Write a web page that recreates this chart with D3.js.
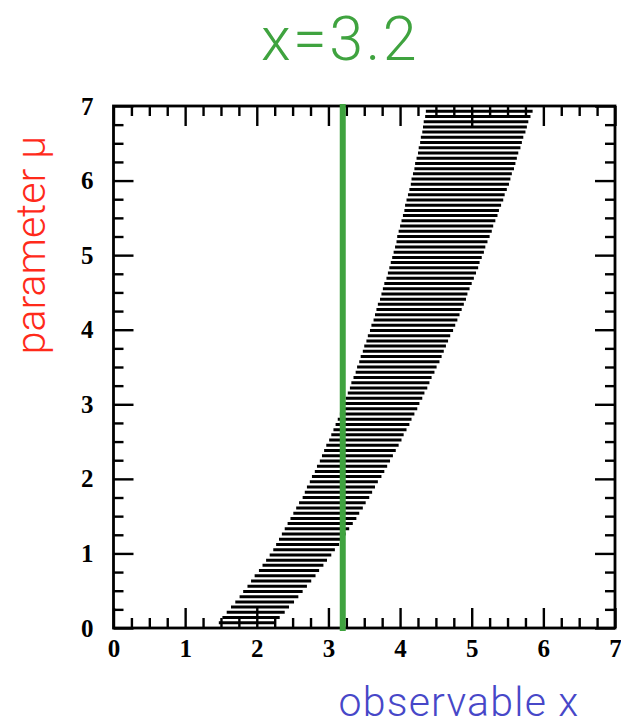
<!DOCTYPE html>
<html>
<head>
<meta charset="utf-8">
<script src="https://cdn.jsdelivr.net/npm/d3@7/dist/d3.min.js"></script>
<style>
  html, body { margin: 0; padding: 0; background: #fff; }
  svg { display: block; }
</style>
</head>
<body>
<svg id="chart" width="621" height="726"></svg>
<script>
// Confidence belt: one horizontal acceptance interval [low, high] in x per value of mu
const beltMu = [
  0.07, 0.14, 0.21, 0.28, 0.35, 0.42, 0.49, 0.56, 0.63, 0.70,
  0.77, 0.84, 0.91, 0.98, 1.05, 1.12, 1.19, 1.26, 1.33, 1.40,
  1.47, 1.54, 1.61, 1.68, 1.75, 1.82, 1.89, 1.96, 2.03, 2.10,
  2.17, 2.24, 2.31, 2.38, 2.45, 2.52, 2.59, 2.66, 2.73, 2.80,
  2.87, 2.94, 3.01, 3.08, 3.15, 3.22, 3.29, 3.36, 3.43, 3.50,
  3.57, 3.64, 3.71, 3.78, 3.85, 3.92, 3.99, 4.06, 4.13, 4.20,
  4.27, 4.34, 4.41, 4.48, 4.55, 4.62, 4.69, 4.76, 4.83, 4.90,
  4.97, 5.04, 5.11, 5.18, 5.25, 5.32, 5.39, 5.46, 5.53, 5.60,
  5.67, 5.74, 5.81, 5.88, 5.95, 6.02, 6.09, 6.16, 6.23, 6.30,
  6.37, 6.44, 6.51, 6.58, 6.65, 6.72, 6.79, 6.86, 6.93
];
const beltLow = [
  1.47, 1.52, 1.58, 1.64, 1.70, 1.76, 1.81, 1.87, 1.92, 1.97,
  2.03, 2.08, 2.13, 2.18, 2.23, 2.27, 2.31, 2.35, 2.39, 2.43,
  2.47, 2.51, 2.55, 2.59, 2.64, 2.67, 2.70, 2.74, 2.77, 2.81,
  2.84, 2.88, 2.91, 2.94, 2.97, 3.01, 3.04, 3.07, 3.10, 3.13,
  3.16, 3.19, 3.22, 3.24, 3.27, 3.30, 3.32, 3.35, 3.38, 3.40,
  3.43, 3.45, 3.48, 3.50, 3.53, 3.55, 3.58, 3.60, 3.63, 3.65,
  3.67, 3.69, 3.72, 3.74, 3.76, 3.78, 3.81, 3.83, 3.85, 3.87,
  3.89, 3.91, 3.93, 3.95, 3.96, 3.98, 4.00, 4.02, 4.04, 4.06,
  4.07, 4.09, 4.11, 4.13, 4.15, 4.16, 4.18, 4.20, 4.21, 4.23,
  4.25, 4.26, 4.28, 4.29, 4.31, 4.32, 4.33, 4.35, 4.36
];
const beltHigh = [
  2.25, 2.32, 2.39, 2.45, 2.52, 2.58, 2.64, 2.70, 2.76, 2.82,
  2.87, 2.93, 2.98, 3.04, 3.09, 3.15, 3.20, 3.24, 3.29, 3.34,
  3.39, 3.43, 3.48, 3.52, 3.57, 3.61, 3.65, 3.69, 3.74, 3.78,
  3.82, 3.86, 3.90, 3.94, 3.98, 4.02, 4.05, 4.09, 4.13, 4.16,
  4.20, 4.24, 4.27, 4.31, 4.34, 4.38, 4.41, 4.44, 4.48, 4.51,
  4.55, 4.58, 4.61, 4.64, 4.67, 4.70, 4.74, 4.77, 4.80, 4.83,
  4.86, 4.89, 4.92, 4.94, 4.97, 5.00, 5.03, 5.06, 5.09, 5.11,
  5.14, 5.17, 5.19, 5.22, 5.25, 5.28, 5.30, 5.33, 5.36, 5.38,
  5.41, 5.44, 5.46, 5.49, 5.52, 5.54, 5.56, 5.59, 5.61, 5.63,
  5.65, 5.68, 5.70, 5.72, 5.75, 5.77, 5.79, 5.82, 5.85
];

// Observed value marked on the plot
const observedX = 3.2;
const titleText = "x=3.2";
const xLabel = "observable x";
const yLabel = "parameter \u03bc";

// Axis ticks
const majorTicks = [0, 1, 2, 3, 4, 5, 6, 7];
const tickLabels = ["0", "1", "2", "3", "4", "5", "6", "7"];
const minorTicks = [
  0.25, 0.5, 0.75, 1.25, 1.5, 1.75, 2.25, 2.5, 2.75, 3.25, 3.5, 3.75,
  4.25, 4.5, 4.75, 5.25, 5.5, 5.75, 6.25, 6.5, 6.75
];

const svg = d3.select("#chart");
const plotLeft = 113.5, plotRight = 615, plotTop = 106, plotBottom = 628;

const x = d3.scaleLinear().domain([0, 7]).range([plotLeft, plotRight]);
const y = d3.scaleLinear().domain([0, 7]).range([plotBottom, plotTop]);

const serif = "'Liberation Serif', 'Times New Roman', serif";
const sans = "Roboto, 'Open Sans', 'Noto Sans', sans-serif";

// Belt: horizontal segments
const rows = beltMu.map((m, i) => ({ mu: m, lo: beltLow[i], hi: beltHigh[i] }));
svg.append("g")
  .selectAll("line")
  .data(rows)
  .join("line")
  .attr("x1", d => x(d.lo))
  .attr("x2", d => x(d.hi))
  .attr("y1", d => y(d.mu))
  .attr("y2", d => y(d.mu))
  .attr("stroke", "#000")
  .attr("stroke-width", 3);

// Inward ticks on all four sides
const labelFmt = d => tickLabels[majorTicks.indexOf(d)];
function styleAxis(g) {
  g.select(".domain").remove();
  g.selectAll(".tick line").attr("stroke", "#000").attr("stroke-width", 2.4);
  g.selectAll("text")
    .attr("font-family", serif)
    .attr("font-size", 25)
    .attr("font-weight", "bold")
    .attr("fill", "#000");
}

svg.append("g").attr("transform", `translate(0,${plotBottom})`)
  .call(d3.axisBottom(x).tickValues(minorTicks).tickSize(-10).tickFormat(""))
  .call(styleAxis);
svg.append("g").attr("transform", `translate(0,${plotBottom})`)
  .call(d3.axisBottom(x).tickValues(majorTicks).tickSize(-20).tickPadding(11).tickFormat(labelFmt))
  .call(styleAxis);

svg.append("g").attr("transform", `translate(0,${plotTop})`)
  .call(d3.axisTop(x).tickValues(minorTicks).tickSize(-10).tickFormat(""))
  .call(styleAxis);
svg.append("g").attr("transform", `translate(0,${plotTop})`)
  .call(d3.axisTop(x).tickValues(majorTicks).tickSize(-20).tickFormat(""))
  .call(styleAxis);

svg.append("g").attr("transform", `translate(${plotLeft},0)`)
  .call(d3.axisLeft(y).tickValues(minorTicks).tickSize(-10).tickFormat(""))
  .call(styleAxis);
svg.append("g").attr("transform", `translate(${plotLeft},0)`)
  .call(d3.axisLeft(y).tickValues(majorTicks).tickSize(-20).tickPadding(20).tickFormat(labelFmt))
  .call(styleAxis);

svg.append("g").attr("transform", `translate(${plotRight},0)`)
  .call(d3.axisRight(y).tickValues(minorTicks).tickSize(-10).tickFormat(""))
  .call(styleAxis);
svg.append("g").attr("transform", `translate(${plotRight},0)`)
  .call(d3.axisRight(y).tickValues(majorTicks).tickSize(-20).tickFormat(""))
  .call(styleAxis);

// Frame
svg.append("rect")
  .attr("x", plotLeft).attr("y", plotTop)
  .attr("width", plotRight - plotLeft).attr("height", plotBottom - plotTop)
  .attr("fill", "none")
  .attr("stroke", "#000")
  .attr("stroke-width", 2.8);

// Observed x line
svg.append("line")
  .attr("x1", x(observedX)).attr("x2", x(observedX))
  .attr("y1", plotTop - 2).attr("y2", plotBottom + 3)
  .attr("stroke", "#3fa33f")
  .attr("stroke-width", 6);

// Title
svg.append("text")
  .attr("x", 340).attr("y", 60)
  .attr("text-anchor", "middle")
  .attr("font-family", sans)
  .attr("font-weight", 300)
  .attr("font-size", 61)
  .attr("letter-spacing", 2.5)
  .attr("fill", "#3fa33f")
  .text(titleText);

// Axis titles
svg.append("text")
  .attr("transform", "translate(45,245) rotate(-90)")
  .attr("text-anchor", "middle")
  .attr("font-family", sans)
  .attr("font-weight", 300)
  .attr("font-size", 41)
  .attr("fill", "#ff2a1a")
  .text(yLabel);

svg.append("text")
  .attr("x", 459).attr("y", 716)
  .attr("text-anchor", "middle")
  .attr("font-family", sans)
  .attr("font-weight", 300)
  .attr("font-size", 41)
  .attr("letter-spacing", 1.2)
  .attr("fill", "#4747c8")
  .text(xLabel);
</script>
</body>
</html>
